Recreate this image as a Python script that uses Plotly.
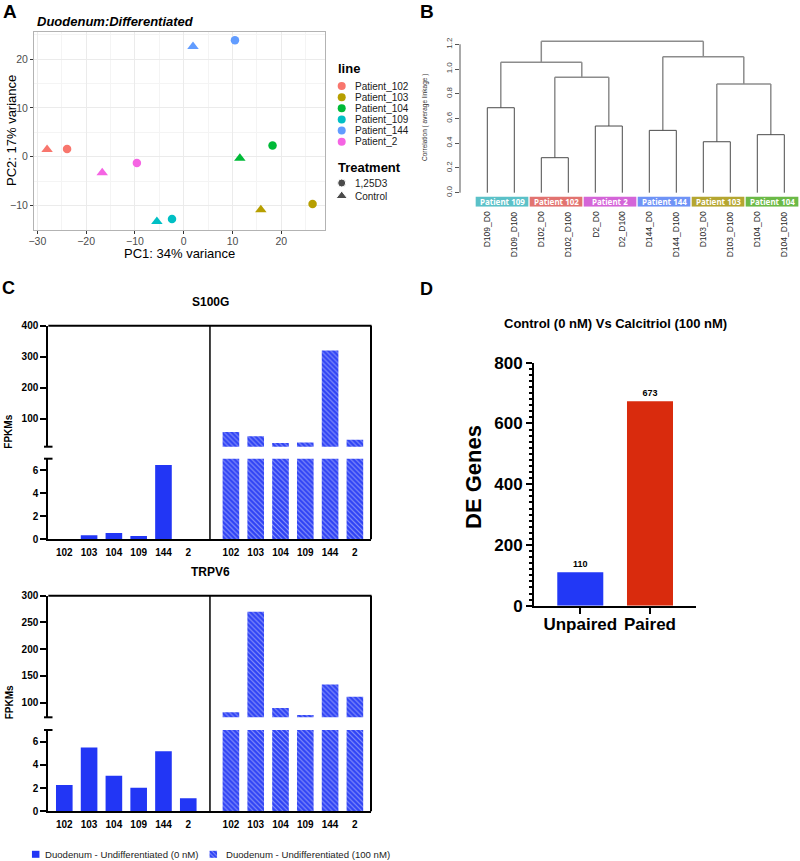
import plotly.graph_objects as go

W, H = 800, 861
ARIAL = "Arial, Liberation Sans, Helvetica, sans-serif"
SANS2 = "Noto Sans, DejaVu Sans, sans-serif"

# ---------------- Panel A data (PCA) ----------------
patients = ["Patient_102", "Patient_103", "Patient_104", "Patient_109", "Patient_144", "Patient_2"]
patient_colors = ["#F8766D", "#B79F00", "#00BA38", "#00BFC4", "#619CFF", "#F564E3"]
pc1_treated = [-23.9, 26.4, 18.2, -2.4, 10.5, -9.6]
pc2_treated = [1.6, -9.7, 2.3, -12.8, 23.9, -1.3]
pc1_control = [-28.0, 15.8, 11.5, -5.5, 1.9, -16.7]
pc2_control = [1.5, -10.9, -0.3, -13.3, 22.6, -3.3]
treatments = ["1,25D3", "Control"]
pca_xticks = [-30, -20, -10, 0, 10, 20]
pca_yticks = [-10, 0, 10, 20]

# ---------------- Panel B data (dendrogram) ----------------
leaf_labels = ["D109_D0", "D109_D100", "D102_D0", "D102_D100", "D2_D0", "D2_D100",
               "D144_D0", "D144_D100", "D103_D0", "D103_D100", "D104_D0", "D104_D100"]
# hclust-style merges: negative = leaf (1-based, plotting order), positive = earlier merge
merges = [(-1, -2, 0.687), (-3, -4, 0.283), (-5, -6, 0.539), (2, 3, 0.933), (1, 4, 1.054),
          (-7, -8, 0.504), (-9, -10, 0.412), (-11, -12, 0.469), (7, 8, 0.879), (6, 9, 1.10),
          (5, 10, 1.224)]
group_names = ["Patient 109", "Patient 102", "Patient 2", "Patient 144", "Patient 103", "Patient 104"]
group_colors = ["#5BC1C8", "#E27370", "#D465D8", "#6F93F6", "#B5A631", "#6BB947"]
dendro_yticks = [0.0, 0.2, 0.4, 0.6, 0.8, 1.0, 1.2]

# ---------------- Panel C data (FPKMs) ----------------
samples = ["102", "103", "104", "109", "144", "2"]
s100g_0nM = [0.0, 0.35, 0.55, 0.29, 6.46, 0.0]
s100g_100nM = [57, 43, 22, 23, 320, 32]
trpv6_0nM = [2.26, 5.5, 3.06, 2.03, 5.16, 1.12]
trpv6_100nM = [82, 270, 90, 77, 134, 111]
cond_labels = ["Duodenum - Undifferentiated (0 nM)", "Duodenum - Undifferentiated (100 nM)"]

# ---------------- Panel D data ----------------
de_methods = ["Unpaired", "Paired"]
de_counts = [110, 673]
de_colors = ["#2238F6", "#D92B0D"]

BLUE = "#2236F5"


def dom_x(a, b):
    return [a / W, b / W]


def dom_y(top, bottom):
    return [1 - bottom / H, 1 - top / H]


def px(x):
    return x / W


def py(y):
    return 1 - y / H


fig = go.Figure()
ann = []
shapes = []
lay = {}

# ======================= Panel A =======================
for i, p in enumerate(patients):
    fig.add_trace(go.Scatter(x=[pc1_treated[i]], y=[pc2_treated[i]], mode="markers",
                             marker=dict(symbol="circle", size=8.5, color=patient_colors[i]),
                             xaxis="x", yaxis="y", showlegend=False, name=p))
    fig.add_trace(go.Scatter(x=[pc1_control[i]], y=[pc2_control[i]], mode="markers",
                             marker=dict(symbol="triangle-up", size=10, color=patient_colors[i]),
                             xaxis="x", yaxis="y", showlegend=False, name=p))

axA = dict(showline=True, mirror=True, linecolor="#B3B3B3", linewidth=1, ticks="outside",
           ticklen=3, tickcolor="#333333", tickfont=dict(family=ARIAL, size=10.5, color="#4D4D4D"),
           showgrid=True, gridcolor="#EBEBEB", gridwidth=1, zeroline=False)
lay["xaxis"] = dict(axA, domain=dom_x(34, 325), range=[-30.68, 28.95], anchor="y",
                    tickvals=pca_xticks, ticklabelstandoff=-2,
                    minor=dict(tickvals=[-25, -15, -5, 5, 15, 25], showgrid=True,
                               gridcolor="#F4F4F4", gridwidth=0.6))
lay["yaxis"] = dict(axA, domain=dom_y(32, 230), range=[-15.05, 25.6], anchor="x",
                    tickvals=pca_yticks,
                    minor=dict(tickvals=[-15, -5, 5, 15, 25], showgrid=True,
                               gridcolor="#F4F4F4", gridwidth=0.6))
ann.append(dict(text="<b><i>Duodenum:Differentiated</i></b>", x=px(35), y=py(21), xref="paper",
                yref="paper", xanchor="left", yanchor="middle", showarrow=False,
                font=dict(family=ARIAL, size=13, color="black")))
ann.append(dict(text="PC1: 34% variance", x=px(179.5), y=py(253), xref="paper", yref="paper",
                xanchor="center", yanchor="middle", showarrow=False,
                font=dict(family=ARIAL, size=13, color="black")))
ann.append(dict(text="PC2: 17% variance", x=px(12), y=py(131), xref="paper", yref="paper",
                xanchor="center", yanchor="middle", textangle=-90, showarrow=False,
                font=dict(family=ARIAL, size=13, color="black")))

# legend for panel A (keys drawn on a hidden helper axis)
lay["xaxis2"] = dict(domain=dom_x(330, 420), range=[330, 420], visible=False, anchor="y2")
lay["yaxis2"] = dict(domain=dom_y(55, 205), range=[205, 55], visible=False, anchor="x2")
key_y = [86 + 11.15 * i for i in range(len(patients))]
fig.add_trace(go.Scatter(x=[341.7] * len(patients), y=key_y, mode="markers",
                         marker=dict(symbol="circle", size=8, color=patient_colors),
                         xaxis="x2", yaxis="y2", showlegend=False, hoverinfo="skip"))
for i, p in enumerate(patients):
    ann.append(dict(text=p, x=353, y=key_y[i], xref="x2", yref="y2", xanchor="left",
                    yanchor="middle", showarrow=False, font=dict(family=ARIAL, size=10, color="#1A1A1A")))
ann.append(dict(text="<b>line</b>", x=336, y=68, xref="x2", yref="y2", xanchor="left",
                yanchor="middle", showarrow=False, font=dict(family=ARIAL, size=13, color="black")))
ann.append(dict(text="<b>Treatment</b>", x=336, y=167, xref="x2", yref="y2", xanchor="left",
                yanchor="middle", showarrow=False, font=dict(family=ARIAL, size=13, color="black")))
treat_y = [183, 196]
fig.add_trace(go.Scatter(x=[341.7, 341.7], y=treat_y, mode="markers",
                         marker=dict(symbol=["circle", "triangle-up"], size=[8, 10], color="black"),
                         xaxis="x2", yaxis="y2", showlegend=False, hoverinfo="skip"))
for i, t in enumerate(treatments):
    ann.append(dict(text=t, x=353, y=treat_y[i], xref="x2", yref="y2", xanchor="left",
                    yanchor="middle", showarrow=False, font=dict(family=ARIAL, size=10, color="#1A1A1A")))

# ======================= Panel B =======================
LEAF0, LEAFSP = 487.3, 27.0
Y0PX, YSC = 192.7, 123.7
leaf_pos = list(range(len(leaf_labels)))
lay["xaxis3"] = dict(domain=dom_x(460, 800), range=[(460 - LEAF0) / LEAFSP, (800 - LEAF0) / LEAFSP],
                     anchor="y3", showticklabels=False, ticks="", showline=False, showgrid=False,
                     zeroline=False)
lay["yaxis3"] = dict(domain=dom_y(38, 206.7), range=[(Y0PX - 206.7) / YSC, (Y0PX - 38) / YSC],
                     anchor="x3", tickvals=dendro_yticks, ticktext=["%.1f" % v for v in dendro_yticks],
                     tickangle=-90, ticks="outside", ticklen=4, tickcolor="#555555",
                     showline=False, showgrid=False, zeroline=False,
                     tickfont=dict(family=ARIAL, size=8, color="#444444"))
shapes.append(dict(type="line", xref="x3 domain", yref="y3", x0=0, x1=0, y0=0, y1=1.2,
                   line=dict(color="#555555", width=1)))
for xi, lab in zip(leaf_pos, leaf_labels):
    ann.append(dict(text=lab, x=xi, y=py(209), xref="x3", yref="paper", textangle=-90,
                    xanchor="center", yanchor="top", showarrow=False,
                    font=dict(family=ARIAL, size=8.5, color="#2A2A2A")))

pos = {}
dark_x, dark_y, light_x, light_y = [], [], [], []
for k, (a, b, h) in enumerate(merges, start=1):
    xs = []
    for c in (a, b):
        if c < 0:
            xc, hc, leaf = leaf_pos[-c - 1], 0.0, True
        else:
            (xc, hc), leaf = pos[c], False
        if leaf:
            dark_x.extend([xc, xc, None]); dark_y.extend([hc, h, None])
        else:
            light_x.extend([xc, xc, None]); light_y.extend([hc, h, None])
        xs.append(xc)
    (dark_x if (a < 0 and b < 0) else light_x).extend([xs[0], xs[1], None])
    (dark_y if (a < 0 and b < 0) else light_y).extend([h, h, None])
    pos[k] = ((xs[0] + xs[1]) / 2, h)
fig.add_trace(go.Scatter(x=light_x, y=light_y, mode="lines", line=dict(color="#8C8C8C", width=1.5),
                         xaxis="x3", yaxis="y3", showlegend=False, hoverinfo="skip"))
fig.add_trace(go.Scatter(x=dark_x, y=dark_y, mode="lines", line=dict(color="#4A4A4A", width=1),
                         xaxis="x3", yaxis="y3", showlegend=False, hoverinfo="skip"))

for g, (name, col) in enumerate(zip(group_names, group_colors)):
    x0, x1 = 2 * g - 0.43, 2 * g + 1.52
    shapes.append(dict(type="rect", xref="x3", yref="y3", x0=x0, x1=x1, y0=-0.113, y1=-0.032,
                       fillcolor=col, line=dict(width=0), layer="above"))
    ann.append(dict(text="<b>%s</b>" % name, x=(x0 + x1) / 2, y=-0.0725, xref="x3", yref="y3",
                    xanchor="center", yanchor="middle", showarrow=False,
                    font=dict(family=SANS2, size=8, color="white")))
ann.append(dict(text="Correlation ( average linkage )", x=px(425), y=py(118), xref="paper",
                yref="paper", textangle=-90, showarrow=False,
                font=dict(family=ARIAL, size=6.5, color="#333333")))

# ======================= Panel C =======================
GAP = 6.72
x_left = [i for i in range(len(samples))]
x_right = [GAP + i for i in range(len(samples))]
C_XR = [-0.645, 12.37]
CDIV = 5.875
tickf = dict(family=ARIAL, size=10, color="black", weight="bold")
yC = dict(showline=True, linecolor="black", linewidth=2, ticks="outside", ticklen=6, tickwidth=2,
          tickcolor="black", tickfont=tickf, showgrid=False, zeroline=False)
hatch = dict(shape="\\", fgcolor="#8F99FA", bgcolor="#2E42F5", size=3.5, solidity=0.3, fillmode="replace")


def c_panel(xu, yu, xl, yl, top, ubot, ltop, bot, urange, uticks, v0, v100, title):
    lay["xaxis" + xu[1:]] = dict(domain=dom_x(48.3, 371), range=C_XR, anchor=yu, visible=False,
                                 matches=xl)
    lay["xaxis" + xl[1:]] = dict(domain=dom_x(48.3, 371), range=C_XR, anchor=yl,
                                 tickvals=x_left + x_right, ticktext=samples + samples, ticks="",
                                 ticklabelstandoff=3,
                                 showline=True, linecolor="black", linewidth=2, showgrid=False,
                                 zeroline=False, tickfont=tickf)
    lay["yaxis" + yu[1:]] = dict(yC, domain=dom_y(top, ubot), range=urange, anchor=xu, tickvals=uticks)
    lay["yaxis" + yl[1:]] = dict(yC, domain=dom_y(ltop, bot), range=[0, 7], anchor=xl,
                                 tickvals=[0, 2, 4, 6])
    for xa, ya in ((xu, yu), (xl, yl)):
        fig.add_trace(go.Bar(x=x_left, y=v0, width=0.67, marker=dict(color=BLUE, line=dict(width=0)),
                             xaxis=xa, yaxis=ya, showlegend=False, name=cond_labels[0]))
        fig.add_trace(go.Bar(x=x_right, y=v100, width=0.67,
                             marker=dict(color=BLUE, line=dict(width=0), pattern=hatch),
                             xaxis=xa, yaxis=ya, showlegend=False, name=cond_labels[1]))
    # frame, divider, break caps
    shapes.append(dict(type="line", xref="paper", yref="paper", x0=px(48.3), x1=px(371.5),
                       y0=py(top), y1=py(top), line=dict(color="black", width=2)))
    shapes.append(dict(type="line", xref="paper", yref="paper", x0=px(371), x1=px(371),
                       y0=py(top), y1=py(bot), line=dict(color="black", width=2)))
    shapes.append(dict(type="line", xref=xl, yref="paper", x0=CDIV, x1=CDIV,
                       y0=py(top), y1=py(bot), line=dict(color="black", width=1.5)))
    for yy in (ubot, ltop):
        shapes.append(dict(type="line", xref="paper", yref="paper", x0=px(44), x1=px(52.5),
                           y0=py(yy), y1=py(yy), line=dict(color="black", width=2)))
    ann.append(dict(text="<b>%s</b>" % title, x=px(210), y=py(top - 24), xref="paper", yref="paper",
                    showarrow=False, font=dict(family=ARIAL, size=12, color="black")))
    ann.append(dict(text="<b>FPKMs</b>", x=px(9), y=py(ubot - 15), xref="paper", yref="paper",
                    textangle=-90, showarrow=False, font=dict(family=ARIAL, size=10, color="black")))


c_panel("x4", "y4", "x5", "y5", 325.7, 446.7, 458.7, 539.3, [9.68, 400], [100, 200, 300, 400],
        s100g_0nM, s100g_100nM, "S100G")
c_panel("x6", "y6", "x7", "y7", 595.7, 717.3, 730, 811.3, [72.7, 300], [100, 150, 200, 250, 300],
        trpv6_0nM, trpv6_100nM, "TRPV6")

# legend of panel C (keys on a hidden helper axis)
lay["xaxis8"] = dict(domain=dom_x(0, 400), range=[0, 400], visible=False, anchor="y8")
lay["yaxis8"] = dict(domain=dom_y(847, 861), range=[0, 14], visible=False, anchor="x8")
fig.add_trace(go.Bar(x=[35.7], y=[7], base=[3.2], width=7.5, marker=dict(color=BLUE, line=dict(width=0)),
                     xaxis="x8", yaxis="y8", showlegend=False, hoverinfo="skip"))
fig.add_trace(go.Bar(x=[213.3], y=[7], base=[3.2], width=7.5,
                     marker=dict(color=BLUE, line=dict(width=0), pattern=dict(hatch, size=3)),
                     xaxis="x8", yaxis="y8", showlegend=False, hoverinfo="skip"))
for xt, t in zip([43.3, 224.3], cond_labels):
    ann.append(dict(text=t, x=xt, y=6.7, xref="x8", yref="y8", xanchor="left", yanchor="middle",
                    showarrow=False, font=dict(family=ARIAL, size=9.6, color="#222222")))

# ======================= Panel D =======================
lay["xaxis9"] = dict(domain=dom_x(534, 696), range=[-0.664, 1.66], anchor="y9",
                     tickvals=[0, 1], ticktext=de_methods, ticks="outside", ticklen=6, tickwidth=2,
                     ticklabelstandoff=-4,
                     tickcolor="black", showline=True, linecolor="black", linewidth=2,
                     showgrid=False, zeroline=False,
                     tickfont=dict(family=ARIAL, size=17, color="black", weight="bold"))
lay["yaxis9"] = dict(domain=dom_y(362.7, 605.7), range=[0, 800], anchor="x9",
                     tickvals=[0, 200, 400, 600, 800], ticks="outside", ticklen=6, tickwidth=2,
                     tickcolor="black", showline=True, linecolor="black", linewidth=2,
                     showgrid=False, zeroline=False,
                     minor=dict(dtick=20, ticks="outside", ticklen=3, tickwidth=1.5, tickcolor="black"),
                     tickfont=dict(family=ARIAL, size=17, color="black", weight="bold"))
fig.add_trace(go.Bar(x=[0, 1], y=de_counts, width=0.66, marker=dict(color=de_colors, line=dict(width=0)),
                     text=[str(v) for v in de_counts], textposition="outside", cliponaxis=False,
                     textfont=dict(family=ARIAL, size=9, color="black", weight="bold"),
                     xaxis="x9", yaxis="y9", showlegend=False))
ann.append(dict(text="<b>Control (0 nM) Vs Calcitriol (100 nM)</b>", x=px(615), y=py(323),
                xref="paper", yref="paper", showarrow=False,
                font=dict(family=ARIAL, size=13, color="black")))
ann.append(dict(text="<b>DE Genes</b>", x=px(473), y=py(477), xref="paper", yref="paper",
                textangle=-90, showarrow=False, font=dict(family=ARIAL, size=22, color="black")))

# panel letters
for letter, xl_, yl_, s in (("A", 10, 12, 19), ("B", 427, 12, 19), ("C", 8, 288, 18), ("D", 427, 289, 18)):
    ann.append(dict(text="<b>%s</b>" % letter, x=px(xl_), y=py(yl_), xref="paper", yref="paper",
                    showarrow=False, font=dict(family=ARIAL, size=s, color="black")))

for a in ann:
    a.setdefault("xanchor", "center")
    a.setdefault("yanchor", "middle")

for k in list(lay):
    lay[k]["automargin"] = False

fig.update_layout(width=W, height=H, margin=dict(l=0, r=0, t=0, b=0, autoexpand=False),
                  paper_bgcolor="white", plot_bgcolor="white", showlegend=False, barmode="overlay",
                  annotations=ann, shapes=shapes, **lay)
fig.write_html("out.html", config={"displayModeBar": False},
               post_script="document.body.style.margin='0px';document.body.style.overflow='hidden';")
